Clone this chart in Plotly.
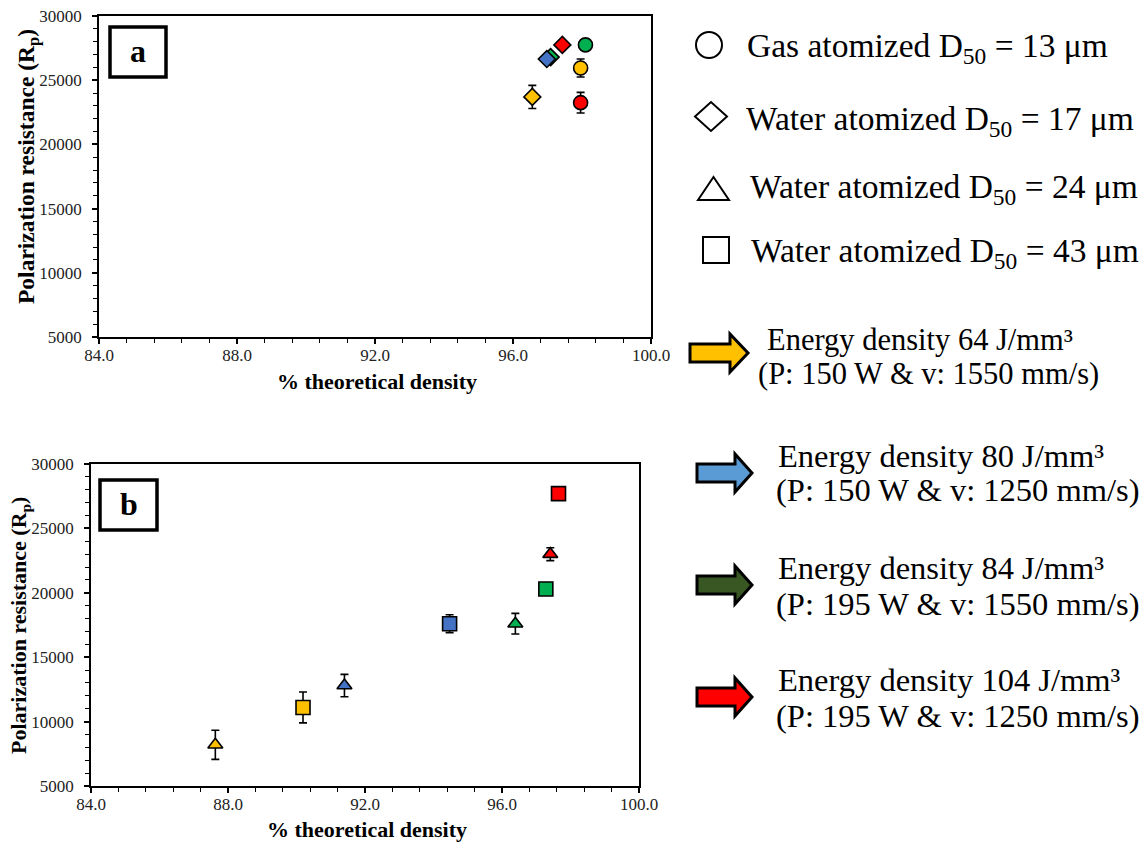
import plotly.graph_objects as go

W, H = 1146, 845

# ---------------- data ----------------
# Panel a
a_density = [97.96, 97.96, 98.10, 96.56, 97.09, 96.98, 97.43]
a_rp = [25950, 23250, 27750, 23700, 26800, 26650, 27750]
a_err = [700, 800, 300, 900, 300, 300, 300]
a_powder = ["GA13", "GA13", "GA13", "WA17", "WA17", "WA17", "WA17"]
a_energy = [64, 104, 84, 64, 84, 80, 104]

# Panel b
b_density = [87.63, 90.19, 91.40, 94.47, 96.39, 97.28, 97.41, 97.65]
b_rp = [8200, 11100, 12800, 17600, 17600, 20300, 23000, 27700]
b_err = [1130, 1200, 870, 690, 800, 300, 500, 300]
b_powder = ["WA24", "WA43", "WA24", "WA43", "WA24", "WA43", "WA24", "WA43"]
b_energy = [64, 64, 80, 80, 84, 84, 104, 104]

x_ticks = [84.0, 88.0, 92.0, 96.0, 100.0]
y_ticks = [5000, 10000, 15000, 20000, 25000, 30000]

powder_labels = {
    "GA13": "Gas atomized D<sub>50</sub> = 13 μm",
    "WA17": "Water atomized D<sub>50</sub> = 17 μm",
    "WA24": "Water atomized D<sub>50</sub> = 24 μm",
    "WA43": "Water atomized D<sub>50</sub> = 43 μm",
}
energy_labels = {
    64: ("Energy density 64 J/mm³", "(P: 150 W & v: 1550 mm/s)"),
    80: ("Energy density 80 J/mm³", "(P: 150 W & v: 1250 mm/s)"),
    84: ("Energy density 84 J/mm³", "(P: 195 W & v: 1550 mm/s)"),
    104: ("Energy density 104 J/mm³", "(P: 195 W & v: 1250 mm/s)"),
}

# ---------------- styles ----------------
marker_color = {64: "#FFC000", 80: "#4472C4", 84: "#00B050", 104: "#FF0000"}
arrow_color = {64: "#FFC000", 80: "#5B9BD5", 84: "#385723", 104: "#FF0000"}
symbol = {"GA13": "circle", "WA17": "diamond", "WA24": "triangle-up", "WA43": "square"}
msize = {"GA13": 14, "WA17": 13, "WA24": 13, "WA43": 14}
FONT = "Liberation Serif"


def px(x):
    return x / W


def py(y):
    return 1 - y / H


fig = go.Figure()


def add_panel(dens, rp, err, powder, energy, xa, ya):
    # error bars first (behind the markers)
    fig.add_trace(go.Scatter(
        x=dens, y=rp, mode="markers", xaxis=xa, yaxis=ya, showlegend=False, hoverinfo="skip",
        marker=dict(size=1, color="rgba(0,0,0,0)"),
        error_y=dict(type="data", array=err, color="black", thickness=1.6, width=4),
    ))
    fig.add_trace(go.Scatter(
        x=dens, y=rp, mode="markers", xaxis=xa, yaxis=ya, showlegend=False,
        marker=dict(
            symbol=[symbol[p] for p in powder],
            size=[msize[p] for p in powder],
            color=[marker_color[e] for e in energy],
            opacity=1,
            line=dict(color="black", width=1.6),
        ),
    ))


add_panel(a_density, a_rp, a_err, a_powder, a_energy, "x", "y")
add_panel(b_density, b_rp, b_err, b_powder, b_energy, "x2", "y2")

xcommon = dict(
    range=[84, 100], tickvals=x_ticks, ticktext=[f"{v:.1f}" for v in x_ticks],
    ticks="outside", ticklen=5, tickwidth=1.5, tickcolor="black", ticklabelstandoff=-3,
    minor=dict(dtick=0.8, tick0=84, ticks="outside", ticklen=4, tickwidth=1.2, tickcolor="black", showgrid=False),
    showline=True, linecolor="black", linewidth=1.5, mirror=True,
    showgrid=False, zeroline=False, automargin=False,
    tickfont=dict(family=FONT, size=17, color="#222"),
)
ycommon = dict(
    range=[5000, 30000], tickvals=y_ticks, ticktext=[str(v) for v in y_ticks],
    ticks="outside", ticklen=5, tickwidth=1.5, tickcolor="black", ticklabelstandoff=7,
    minor=dict(dtick=1000, tick0=5000, ticks="outside", ticklen=4, tickwidth=1.2, tickcolor="black", showgrid=False),
    showline=True, linecolor="black", linewidth=1.5, mirror=True,
    showgrid=False, zeroline=False, automargin=False,
    tickfont=dict(family=FONT, size=17, color="#222"),
)

fig.update_layout(
    width=W, height=H,
    margin=dict(l=0, r=0, t=0, b=0),
    paper_bgcolor="white", plot_bgcolor="white",
    xaxis=dict(domain=[px(99), px(651)], anchor="y", **xcommon),
    yaxis=dict(domain=[py(337), py(16)], anchor="x", **ycommon),
    xaxis2=dict(domain=[px(91), px(639)], anchor="y2", **xcommon),
    yaxis2=dict(domain=[py(786), py(464)], anchor="x2", **ycommon),
)

annotations = []
shapes = []

# axis titles
ytitle = "<b>Polarization resistance (R<sub>p</sub>)</b>"
xtitle = "<b>% theoretical density</b>"
annotations.append(dict(x=px(28), y=py(167), xref="paper", yref="paper", text=ytitle, textangle=-90,
                        showarrow=False, font=dict(family=FONT, size=23.5, color="black"), xanchor="center", yanchor="middle"))
annotations.append(dict(x=px(20), y=py(626), xref="paper", yref="paper", text=ytitle, textangle=-90,
                        showarrow=False, font=dict(family=FONT, size=22, color="black"), xanchor="center", yanchor="middle"))
annotations.append(dict(x=px(377), y=py(381), xref="paper", yref="paper", text=xtitle,
                        showarrow=False, font=dict(family=FONT, size=22, color="black"), xanchor="center", yanchor="middle"))
annotations.append(dict(x=px(367), y=py(829), xref="paper", yref="paper", text=xtitle,
                        showarrow=False, font=dict(family=FONT, size=22, color="black"), xanchor="center", yanchor="middle"))

# panel labels
for lab, (x0, y0, x1, y1) in {"a": (110, 27, 166, 77), "b": (100, 480, 157, 530)}.items():
    shapes.append(dict(type="rect", xref="paper", yref="paper", x0=px(x0), x1=px(x1), y0=py(y1), y1=py(y0),
                       line=dict(color="black", width=3.5), fillcolor="white"))
    annotations.append(dict(x=px((x0 + x1) / 2), y=py((y0 + y1) / 2 - 1), xref="paper", yref="paper",
                            text="<b>" + lab + "</b>", showarrow=False,
                            font=dict(family=FONT, size=32, color="black"), xanchor="center", yanchor="middle"))

# powder legend
lw = 2
shapes.append(dict(type="circle", xref="paper", yref="paper", x0=px(696), x1=px(722), y0=py(58), y1=py(32),
                   line=dict(color="black", width=lw)))
shapes.append(dict(type="path", xref="paper", yref="paper",
                   path=f"M {px(695)} {py(116.5)} L {px(711)} {py(102)} L {px(727)} {py(116.5)} L {px(711)} {py(131)} Z",
                   line=dict(color="black", width=lw)))
shapes.append(dict(type="path", xref="paper", yref="paper",
                   path=f"M {px(698)} {py(200)} L {px(713.5)} {py(177)} L {px(729)} {py(200)} Z",
                   line=dict(color="black", width=lw)))
shapes.append(dict(type="rect", xref="paper", yref="paper", x0=px(703), x1=px(729), y0=py(263), y1=py(237),
                   line=dict(color="black", width=lw)))
for key, (xs, yc) in zip(["GA13", "WA17", "WA24", "WA43"], [(745, 48), (744, 121), (748, 189), (749, 253)]):
    annotations.append(dict(x=px(xs), y=py(yc), xref="paper", yref="paper", text=powder_labels[key],
                            showarrow=False, font=dict(family=FONT, size=33.5, color="black"),
                            xanchor="left", yanchor="middle"))

# energy legend
energy_pos = {
    64: dict(tail=690, tip=748, head=730, yc=353, l1=(765, 340), l2=(756, 374), fs=30.5),
    80: dict(tail=697, tip=752, head=735, yc=473, l1=(776, 456), l2=(774, 490), fs=32.5),
    84: dict(tail=697, tip=752, head=735, yc=585, l1=(776, 568), l2=(774, 604), fs=32.5),
    104: dict(tail=697, tip=752, head=735, yc=697, l1=(776, 680), l2=(774, 716), fs=32.5),
}
for e, p in energy_pos.items():
    yc = p["yc"]
    pts = [(p["tail"], yc - 9), (p["head"], yc - 9), (p["head"], yc - 19), (p["tip"], yc),
           (p["head"], yc + 19), (p["head"], yc + 9), (p["tail"], yc + 9)]
    path = "M " + " L ".join(f"{px(x)} {py(y)}" for x, y in pts) + " Z"
    shapes.append(dict(type="path", xref="paper", yref="paper", path=path,
                       fillcolor=arrow_color[e], line=dict(color="black", width=3)))
    t1, t2 = energy_labels[e]
    for (xs, yc2), t in ((p["l1"], t1), (p["l2"], t2)):
        annotations.append(dict(x=px(xs), y=py(yc2), xref="paper", yref="paper", text=t,
                                showarrow=False, font=dict(family=FONT, size=p["fs"], color="black"),
                                xanchor="left", yanchor="middle"))

fig.update_layout(annotations=annotations, shapes=shapes)
fig.write_html("out.html", config={"displayModeBar": False},
               post_script="document.body.style.margin='0';document.body.style.overflow='hidden';")
